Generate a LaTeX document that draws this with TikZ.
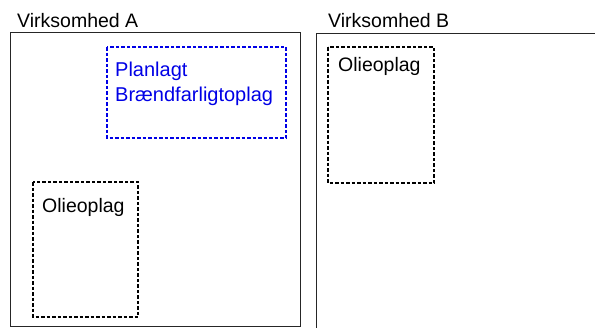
\documentclass[tikz,border=0pt]{standalone}
\usepackage{fontspec}
\setmainfont{Liberation Sans}
\definecolor{planblue}{RGB}{0,0,230}
\begin{document}
\begin{tikzpicture}[x=1pt,y=-1pt,
  outer/.style={draw=black!85, line width=1pt},
  tank/.style={draw=black, line width=1.6pt, dash pattern=on 3.5pt off 2pt},
  plan/.style={draw=planblue, line width=1.6pt, dash pattern=on 3.5pt off 2pt},
  lbl/.style={anchor=base west, inner sep=0pt, font=\fontsize{19.5}{22}\selectfont},
  blbl/.style={lbl, text=planblue, align=left}]
\useasboundingbox (0,0) rectangle (595,327);
\begin{scope}
\clip (0,0) rectangle (595,327);
\draw[outer] (10.5,32.5) rectangle (300.5,326) coordinate (Abr);
\draw[outer] (316.5,33.5) rectangle (620,340);
\draw[plan] (107,47) rectangle (286,138);
\draw[tank] (33,182) rectangle (138,317);
\draw[tank] (328,47) rectangle (434,183);
\end{scope}
\node[lbl] (tA) at (17,27) {Virksomhed A};
\node[lbl] (tB) at (328,27) {Virksomhed B};
\node[blbl, font=\fontsize{20}{24.5}\selectfont] (tP) at (115,101) {Planlagt\\Brændfarligtoplag};
\node[lbl] (tOA) at (42,212) {Olieoplag};
\node[lbl] (tOB) at (338,71) {Olieoplag};
\end{tikzpicture}
\end{document}
